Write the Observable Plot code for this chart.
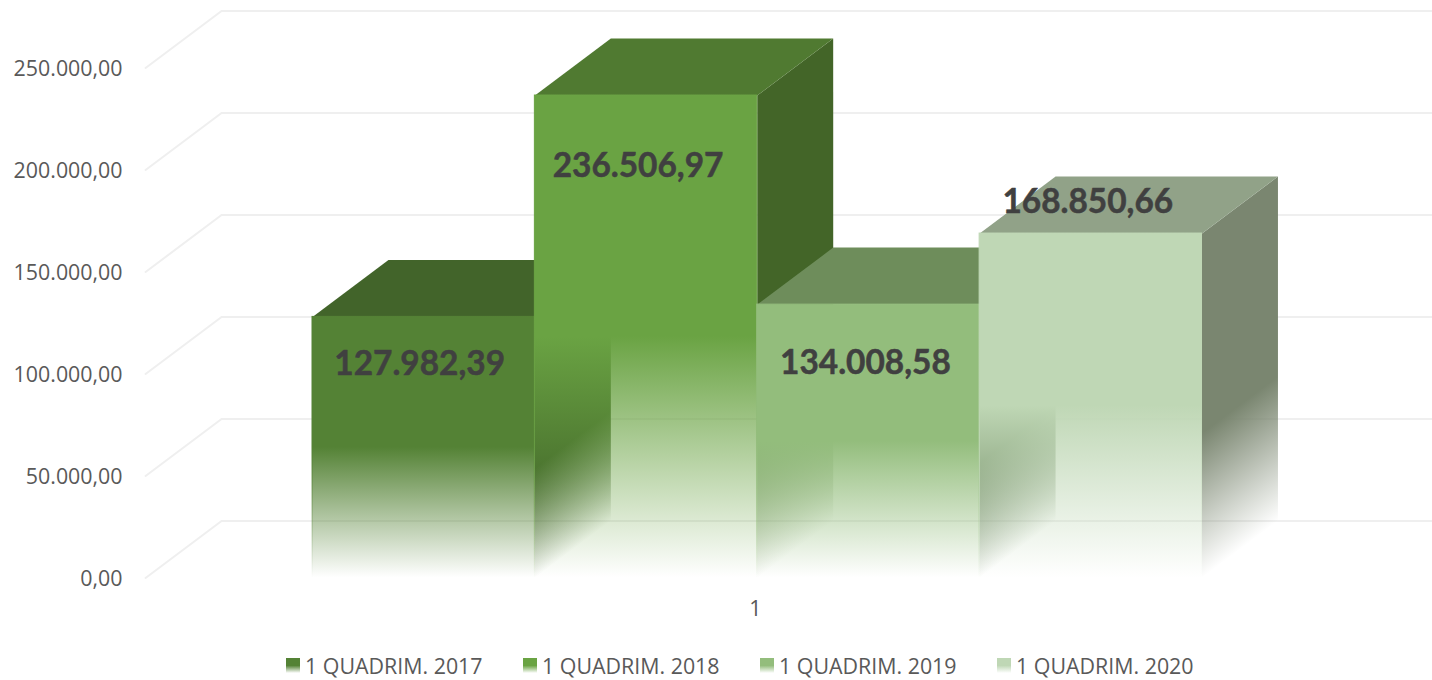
<!DOCTYPE html>
<html lang="pt">
<head>
<meta charset="utf-8">
<script src="https://cdn.jsdelivr.net/npm/d3@7"></script>
<script src="https://cdn.jsdelivr.net/npm/@observablehq/plot@0.6"></script>
<style>
  html, body { margin: 0; padding: 0; background: #fff; overflow: hidden; }
  #legend { display: flex; padding-left: 286px; height: 35px; font: 21.4px "Open Sans", sans-serif; color: #595959; }
  .item { width: 237px; display: flex; align-items: center; box-sizing: border-box; height: 43px; margin-top: -1px; }
  .swatch { width: 14px; height: 15px; margin-right: 5px; flex: none; }
</style>
</head>
<body>
<div id="chart"></div>
<div id="legend"></div>
<script>
// Data
const series = ["1 QUADRIM. 2017", "1 QUADRIM. 2018", "1 QUADRIM. 2019", "1 QUADRIM. 2020"];
const values = [127982.39, 236506.97, 134008.58, 168850.66];
const yTicks = [0, 50000, 100000, 150000, 200000, 250000];
const categoryLabel = "1";

// Styles
const frontColors = ["#548235", "#6aa343", "#93bd7c", "#bfd7b5"];
const topColors   = ["#42642a", "#507a31", "#6e8d5b", "#91a288"];
const sideColors  = ["#355221", "#436528", "#5d7750", "#7a8670"];
const gridColor = "#efefef";

// Layout: oblique depth expressed in data units, hand-placed label nudges in px
const depthX = 0.3416, depthY = 27941;
const wallLeft = -0.7506, wallRight = 5.034;
const labelNudge = [[-4, 47.5], [-8, 70.5], [-3, 58.5], [-3, -31.5]];

const fmt = (v) => v.toLocaleString("pt-BR", {minimumFractionDigits: 2, maximumFractionDigits: 2});

const bars = values.map((value, i) => ({i, value, x0: i, x1: i + 1}));

const defs = (index, {x, y}) => {
  const d = d3.create("svg:defs");
  const grad = (id, color, p, q, solid) => {
    const g = d.append("linearGradient").attr("id", id).attr("gradientUnits", "userSpaceOnUse")
      .attr("x1", p[0]).attr("y1", p[1]).attr("x2", q[0]).attr("y2", q[1]);
    g.append("stop").attr("offset", 0).attr("stop-color", color);
    g.append("stop").attr("offset", solid).attr("stop-color", color);
    g.append("stop").attr("offset", 1).attr("stop-color", color).attr("stop-opacity", 0);
  };
  const ux = x(depthX) - x(0), uy = y(0) - y(depthY), len = Math.hypot(ux, uy);
  for (const b of bars) {
    const top = y(b.value), base = y(0), h = base - top, xr = x(b.x1);
    grad(`front${b.i}`, frontColors[b.i], [xr, top], [xr, base], 0.5);
    const nx = uy / len, ny = ux / len, reach = h * ny;
    grad(`side${b.i}`, sideColors[b.i], [xr, top], [xr + nx * reach, top + ny * reach], 0.58);
  }
  return d.node();
};

const gridPoints = yTicks.flatMap((v) => [
  {v, x: wallLeft, y: v},
  {v, x: wallLeft + depthX, y: v + depthY},
  {v, x: wallRight, y: v + depthY}
]);

const barMarks = bars.flatMap((b) => {
  const side = [[b.x1, b.value], [b.x1 + depthX, b.value + depthY], [b.x1 + depthX, depthY], [b.x1, 0]];
  const top = [[b.x0, b.value], [b.x1, b.value], [b.x1 + depthX, b.value + depthY], [b.x0 + depthX, b.value + depthY]];
  return [
    Plot.line(side, {x: "0", y: "1", fill: `url(#side${b.i})`, stroke: "none"}),
    Plot.line(top, {x: "0", y: "1", fill: topColors[b.i], stroke: "none"}),
    Plot.rect([b], {x1: "x0", x2: "x1", y1: 0, y2: "value", fill: `url(#front${b.i})`, stroke: `url(#front${b.i})`, strokeWidth: 1})
  ];
});

const labelMarks = bars.map((b) => Plot.text([b], {
  x: (d) => (d.x0 + d.x1) / 2,
  y: "value",
  dx: labelNudge[b.i][0],
  dy: labelNudge[b.i][1],
  text: (d) => fmt(d.value),
  fontFamily: "Lato",
  fontWeight: 700,
  fontSize: 33.4,
  fill: "#404040",
  stroke: "#404040",
  strokeWidth: 0.5
}));

const chart = Plot.plot({
  width: 1432,
  height: 645,
  margin: 0,
  x: {domain: [0, 4], range: [312, 1201.5], axis: null},
  y: {domain: [0, 250000], range: [577.5, 67.5], axis: null},
  style: {background: "#fff", fontFamily: "'Open Sans', sans-serif", display: "block"},
  marks: [
    defs,
    Plot.line(gridPoints, {x: "x", y: "y", z: "v", stroke: gridColor, strokeWidth: 2}),
    Plot.axisY({
      x: wallLeft, anchor: "left", ticks: yTicks, tickSize: 0, tickPadding: 23, label: null,
      tickFormat: fmt, fontSize: 21.4, fill: "#595959", dy: 1.5
    }),
    ...barMarks,
    ...labelMarks,
    Plot.text([categoryLabel], {x: 2, y: 0, dx: -2, dy: 31.5, text: (d) => d, fontSize: 21.4, fill: "#595959"})
  ]
});
document.getElementById("chart").append(chart);

const legend = d3.select("#legend");
series.forEach((name, i) => {
  const item = legend.append("div").attr("class", "item");
  item.append("div").attr("class", "swatch")
    .style("background", `linear-gradient(${frontColors[i]} 50%, #ffffff 100%)`);
  item.append("span").text(name);
});
</script>
</body>
</html>
